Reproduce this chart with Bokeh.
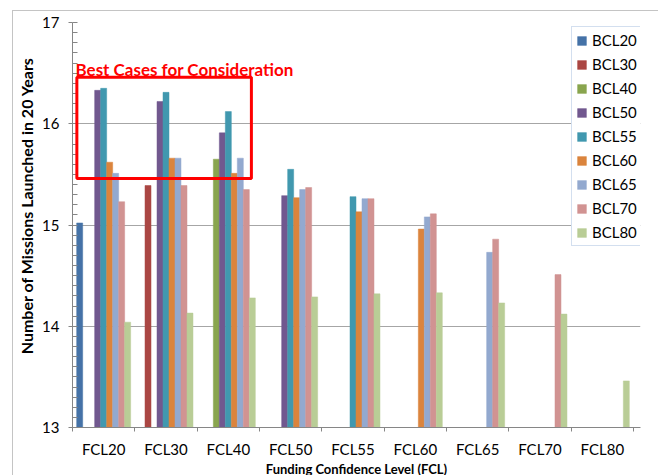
from bokeh.plotting import figure
from bokeh.models import (Range1d, FixedTicker, SingleIntervalTicker, Legend,
                          LegendItem, BoxAnnotation, Label, ColumnDataSource)
from bokeh.transform import dodge
from bokeh.embed import file_html
from bokeh.resources import INLINE

nan = float("nan")

# Funding confidence levels (x categories) and budget confidence levels (series)
fcl = ["FCL20", "FCL30", "FCL40", "FCL50", "FCL55", "FCL60", "FCL65", "FCL70", "FCL80"]
bcl = ["BCL20", "BCL30", "BCL40", "BCL50", "BCL55", "BCL60", "BCL65", "BCL70", "BCL80"]

# Missions launched in 20 years, one value per FCL (nan = not evaluated)
bcl20 = [15.02, nan, nan, nan, nan, nan, nan, nan, nan]
bcl30 = [nan, 15.39, nan, nan, nan, nan, nan, nan, nan]
bcl40 = [nan, nan, 15.65, nan, nan, nan, nan, nan, nan]
bcl50 = [16.33, 16.22, 15.91, 15.29, nan, nan, nan, nan, nan]
bcl55 = [16.35, 16.31, 16.12, 15.55, 15.28, nan, nan, nan, nan]
bcl60 = [15.62, 15.66, 15.51, 15.27, 15.13, 14.96, nan, nan, nan]
bcl65 = [15.51, 15.66, 15.66, 15.35, 15.26, 15.08, 14.73, nan, nan]
bcl70 = [15.23, 15.39, 15.35, 15.37, 15.26, 15.11, 14.86, 14.51, nan]
bcl80 = [14.04, 14.13, 14.28, 14.29, 14.32, 14.33, 14.23, 14.12, 13.46]

series = [bcl20, bcl30, bcl40, bcl50, bcl55, bcl60, bcl65, bcl70, bcl80]
colors = ["#4572A7", "#AA4643", "#89A54E", "#71588F", "#4198AF",
          "#DB843D", "#93A9CF", "#D19392", "#B9CD96"]

FONT = "Lato"
AXIS_GREY = "#868686"
bar_w = 0.0962

# category slots on a numeric axis: slot i spans [i, i+1]
centers = [i + 0.5 for i in range(len(fcl))]

# frame is a little wider than the category axis so the legend fits inside it
FRAME_W, FRAME_H = 568, 405
AXIS_W = 561
p = figure(x_range=Range1d(0, len(fcl) * FRAME_W / AXIS_W), y_range=Range1d(13, 17),
           frame_width=FRAME_W, frame_height=FRAME_H,
           min_border_left=59, min_border_top=11,
           min_border_right=18, min_border_bottom=48,
           toolbar_location=None,
           output_backend="svg", background_fill_color="white",
           border_fill_color="white", outline_line_color=None)
p.styles = {"margin-left": "12px", "margin-top": "10px",
            "border-left": "1px solid #c4c4c4", "border-top": "1px solid #c4c4c4"}

renderers = []
for j, (name, vals) in enumerate(zip(bcl, series)):
    src = ColumnDataSource(dict(xc=centers, top=vals))
    r = p.vbar(x=dodge("xc", (j - 4) * bar_w), top="top",
               bottom=13, width=bar_w, fill_color=colors[j],
               line_color=colors[j], line_width=0.5, source=src)
    renderers.append((name, r))

# x axis: labels at category centres, ticks on category boundaries
xaxis = p.xaxis[0]
xaxis.ticker = FixedTicker(ticks=centers, minor_ticks=list(range(len(fcl) + 1)))
xaxis.major_label_overrides = {c: f for c, f in zip(centers, fcl)}
xaxis.axis_label = "Funding Confidence Level (FCL)"
xaxis.major_tick_out = 0
xaxis.major_tick_in = 0
xaxis.minor_tick_out = 4
xaxis.minor_tick_in = 0
xaxis.axis_line_color = AXIS_GREY
xaxis.minor_tick_line_color = AXIS_GREY
xaxis.major_label_standoff = 8
xaxis.major_label_text_font = FONT
xaxis.major_label_text_font_size = "15px"
xaxis.major_label_text_color = "#000000"
xaxis.axis_label_standoff = 0
xaxis.axis_label_text_font = FONT
xaxis.axis_label_text_font_size = "13px"
xaxis.axis_label_text_font_style = "bold"
xaxis.axis_label_text_color = "#000000"

yaxis = p.yaxis[0]
yaxis.ticker = SingleIntervalTicker(interval=1, num_minor_ticks=10)
# leading no-break spaces lift the title a little above the frame's middle
yaxis.axis_label = "\u00a0" * 10 + "Number of Missions Launched in 20 Years"
yaxis.major_tick_out = 4
yaxis.major_tick_in = 0
yaxis.minor_tick_out = 0
yaxis.minor_tick_in = 5
yaxis.axis_line_color = AXIS_GREY
yaxis.major_tick_line_color = AXIS_GREY
yaxis.minor_tick_line_color = AXIS_GREY
yaxis.major_label_standoff = 9
yaxis.major_label_text_font = FONT
yaxis.major_label_text_font_size = "15px"
yaxis.major_label_text_color = "#000000"
yaxis.axis_label_standoff = 3
yaxis.axis_label_text_font = FONT
yaxis.axis_label_text_font_size = "16px"
yaxis.axis_label_text_font_style = "bold"
yaxis.axis_label_text_color = "#000000"

p.xgrid.visible = False
p.ygrid.ticker = SingleIntervalTicker(interval=1)
p.ygrid.grid_line_color = "#a6a6a6"

# highlighted region
p.add_layout(BoxAnnotation(left=0.07, right=2.87, bottom=15.46, top=16.46,
                           fill_alpha=0, line_color="#ff0000", line_alpha=1,
                           line_width=3))
p.add_layout(Label(x=0.048, y=16.535,
                   text="Best Cases for Consideration", text_color="#ff0000",
                   text_font=FONT, text_font_style="bold",
                   text_font_size="17px", text_baseline="alphabetic"))

legend = Legend(items=[LegendItem(label=n, renderers=[r]) for n, r in renderers],
                location=(499, 181), orientation="vertical",
                glyph_width=11, glyph_height=11, label_height=18,
                spacing=6, padding=4, label_standoff=5,
                label_text_font=FONT, label_text_font_size="15px",
                label_text_color="#000000",
                border_line_color="#a8c0e0", background_fill_color="white",
                background_fill_alpha=1)
p.add_layout(legend)

open("out.html", "w").write(file_html(p, INLINE))
